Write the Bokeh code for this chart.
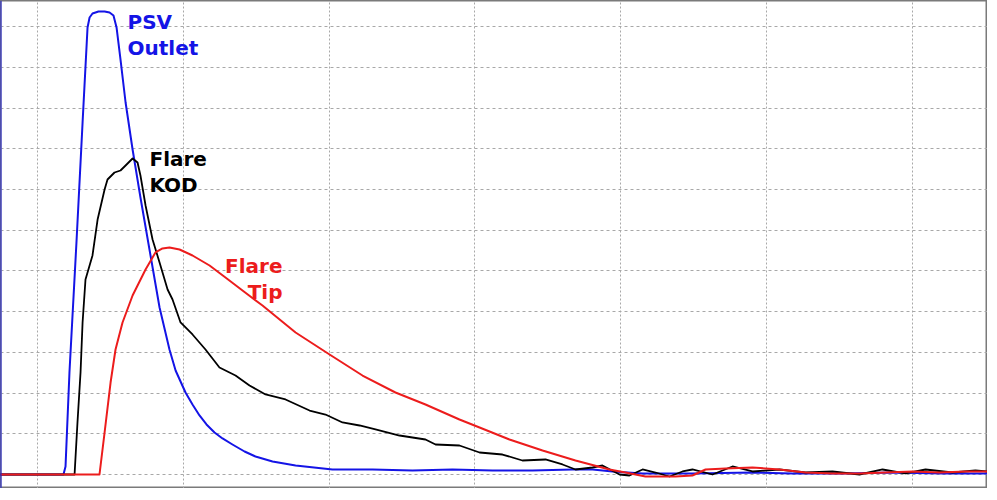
from bokeh.plotting import figure
from bokeh.models import Range1d, Grid, FixedTicker, Span, Label
from bokeh.embed import file_html
from bokeh.resources import INLINE

# ---- data (time in s, pressure in arbitrary units) ----
psv_t = [-2.67, 1.78, 1.92, 2.19, 2.67, 3.09, 3.43, 3.57, 3.77, 4.18, 4.60, 4.94, 5.21, 5.42,
         5.69, 6.04, 6.52, 7.06, 7.75, 8.37, 9.05, 9.47, 10.15, 10.63, 11.11, 11.59, 12.14,
         12.69, 13.37, 14.20, 14.95, 16.12, 17.70, 20.23, 22.98, 25.72, 28.46, 31.21, 33.95,
         36.69, 38.07, 39.44, 41.50, 44.92, 49.04, 51.78, 55.21, 58.64, 62.07, 65.29]
psv_p = [0, 0, 1.97, 25.06, 57.00, 86.49, 109.83, 112.29, 113.27, 113.76, 113.76, 113.51,
         112.78, 109.83, 101.97, 91.40, 79.85, 68.06, 53.81, 41.03, 30.71, 25.55, 20.15, 17.20,
         14.50, 12.29, 10.32, 8.85, 7.37, 5.65, 4.42, 3.19, 2.21, 1.23, 1.23, 0.98, 1.23, 0.98,
         0.98, 1.23, 1.23, 0.74, 0.25, 0.25, 0.49, 0.25, 0.25, 0.49, 0.25, 0.25]

kod_t = [-2.67, 2.54, 2.74, 2.95, 3.09, 3.29, 3.77, 4.12, 4.60, 4.80, 5.28, 5.69, 6.04, 6.52,
         6.86, 7.06, 7.41, 7.89, 8.37, 8.92, 9.26, 9.81, 10.63, 11.52, 12.48, 13.58, 14.54,
         15.64, 17.01, 18.66, 19.75, 20.92, 22.09, 23.18, 24.83, 26.61, 27.30, 28.94, 30.32,
         31.89, 33.26, 34.84, 36.01, 36.90, 38.07, 38.75, 39.92, 40.60, 41.50, 42.39, 43.35,
         44.24, 44.92, 46.30, 47.67, 49.04, 50.89, 52.67, 54.53, 56.38, 57.96, 59.53, 60.91,
         62.76, 64.33, 65.29]
kod_p = [0, 0, 12.78, 25.06, 37.35, 47.91, 53.81, 62.65, 70.02, 72.48, 74.20, 74.69, 75.92,
         77.64, 76.66, 73.46, 66.09, 57.74, 52.09, 45.45, 43.00, 37.35, 34.40, 30.71, 26.29,
         24.32, 21.87, 19.66, 18.43, 15.72, 14.74, 12.78, 12.04, 11.06, 9.58, 8.60, 7.37, 7.13,
         5.41, 4.91, 3.44, 3.69, 2.46, 1.23, 1.72, 2.21, 0, -0.25, 1.23, 0.49, -0.49, 0.74,
         1.23, 0, 1.97, 0.74, 1.23, 0.49, 0.74, 0, 1.23, 0.25, 1.23, 0.49, 0.98, 0.74]

tip_t = [-2.67, 4.25, 4.60, 5.01, 5.35, 5.83, 6.52, 7.41, 8.09, 8.57, 9.05, 9.74, 10.63,
         11.80, 12.89, 14.06, 15.43, 17.70, 20.03, 22.29, 24.55, 26.61, 28.94, 30.32, 32.37,
         34.64, 36.90, 39.23, 40.33, 41.70, 43.76, 44.92, 45.82, 47.19, 49.04, 50.89, 52.67,
         54.53, 56.38, 58.16, 60.01, 61.87, 63.65, 65.29]
tip_p = [0, 0, 10.32, 22.60, 30.71, 37.35, 43.98, 50.37, 54.55, 55.53, 55.77, 55.28, 53.81,
         51.35, 48.40, 45.21, 41.52, 34.89, 29.48, 24.32, 20.15, 17.20, 13.51, 11.55, 8.60,
         5.90, 3.44, 1.23, 0.49, -0.49, -0.49, -0.25, 1.23, 1.47, 1.72, 1.23, 0.49, 0.25, 0.25,
         0.49, 0.74, 0.49, 0.74, 0.74]

x_ticks = [0, 10, 20, 30, 40, 50, 60]
y_ticks = [0, 10, 20, 30, 40, 50, 60, 70, 80, 90, 100, 110]

BLUE = "#1414e6"
RED = "#ec1c1c"
BLACK = "#000000"

p = figure(width=987, height=488, output_backend="svg", toolbar_location=None,
           x_axis_type=None, y_axis_type=None,
           x_range=Range1d(-2.54, 65.16), y_range=Range1d(-3.44, 116.46),
           min_border=0)
p.background_fill_color = "white"
p.border_fill_color = "white"
p.outline_line_color = "#7a7a7a"
p.outline_line_width = 2

p.add_layout(Grid(dimension=0, ticker=FixedTicker(ticks=x_ticks),
                  grid_line_color="#a8a8a8", grid_line_dash="2 2", grid_line_width=1))
p.add_layout(Grid(dimension=1, ticker=FixedTicker(ticks=y_ticks),
                  grid_line_color="#a8a8a8", grid_line_dash="3 3", grid_line_width=1))

p.add_layout(Span(location=p.x_range.start, dimension="height",
                  line_color="#2323d8", line_width=2))

p.line(psv_t, psv_p, line_color=BLUE, line_width=2, line_join="round")
p.line(kod_t, kod_p, line_color=BLACK, line_width=1.8, line_join="round")
p.line(tip_t, tip_p, line_color=RED, line_width=2, line_join="round")

font = "DejaVu Sans"
fs = "20px"
labels = [
    ("PSV", 6.17, 111.06, BLUE, "left"),
    ("Outlet", 6.17, 104.67, BLUE, "left"),
    ("Flare", 7.68, 77.40, BLACK, "left"),
    ("KOD", 7.68, 71.01, BLACK, "left"),
    ("Flare", 16.80, 51.35, RED, "right"),
    ("Tip", 16.80, 44.96, RED, "right"),
]
for txt, x, y, c, al in labels:
    p.add_layout(Label(x=x, y=y, text=txt, text_color=c, text_font=font,
                       text_font_size=fs, text_font_style="bold",
                       text_align=al, text_baseline="alphabetic"))

open("out.html", "w").write(file_html(p, INLINE))
